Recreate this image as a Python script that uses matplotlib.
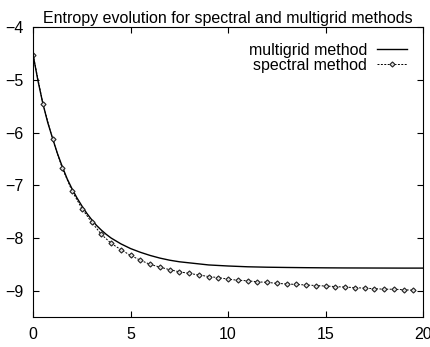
import numpy as np
import matplotlib
matplotlib.use("Agg")
import matplotlib.pyplot as plt

plt.rcParams['font.family'] = ['Liberation Sans', 'DejaVu Sans']

# Datos
t_spectral = [0, 0.5, 1, 1.5, 2, 2.5, 3, 3.5, 4, 4.5, 5, 5.5, 6, 6.5, 7, 7.5, 8, 8.5, 9, 9.5,
              10, 10.5, 11, 11.5, 12, 12.5, 13, 13.5, 14, 14.5, 15, 15.5, 16, 16.5, 17, 17.5,
              18, 18.5, 19, 19.5]
s_spectral = [-4.53, -5.45, -6.13, -6.68, -7.11, -7.44, -7.70, -7.93, -8.10, -8.22, -8.33,
              -8.42, -8.50, -8.55, -8.60, -8.64, -8.67, -8.70, -8.73, -8.75, -8.78, -8.80,
              -8.81, -8.83, -8.84, -8.86, -8.87, -8.88, -8.89, -8.90, -8.91, -8.92, -8.93,
              -8.94, -8.95, -8.96, -8.97, -8.97, -8.98, -8.99]

t_multigrid = [0, 0.25, 0.5, 0.75, 1, 1.25, 1.5, 1.75, 2, 2.25, 2.5, 2.75, 3, 3.25, 3.5,
               3.75, 4, 4.5, 5, 5.5, 6, 6.5, 7, 7.5, 8, 8.5, 9, 9.5, 10, 11, 12, 13, 14,
               15, 16, 17, 18, 19, 20]
s_multigrid = [-4.53, -5.02, -5.45, -5.81, -6.11, -6.40, -6.65, -6.88, -7.07, -7.24, -7.39,
               -7.53, -7.65, -7.76, -7.85, -7.93, -8.00, -8.11, -8.20, -8.27, -8.33, -8.38,
               -8.42, -8.45, -8.47, -8.49, -8.51, -8.52, -8.53, -8.545, -8.553, -8.558,
               -8.562, -8.565, -8.567, -8.568, -8.569, -8.57, -8.57]

x_ticks = [0, 5, 10, 15, 20]
y_ticks = [-4, -5, -6, -7, -8, -9]

fig = plt.figure(figsize=(4.30, 3.47), dpi=100)
ax = fig.add_axes([0.077, 0.086, 0.907, 0.836])

ax.plot(t_multigrid, s_multigrid, color='black', lw=1.0, label='multigrid method')
ax.plot(t_spectral, s_spectral, color='black', lw=0.7, ls=(0, (2, 1.5)),
        marker='D', markersize=2.6, markerfacecolor='#dddddd', markeredgecolor='#222222',
        markeredgewidth=0.8, label='spectral method')

ax.set_xlim(0, 20)
ax.set_ylim(-9.5, -4)
ax.set_xticks(x_ticks)
ax.set_yticks(y_ticks)
ax.tick_params(direction='in', top=True, right=True, labelsize=11.5, length=4, pad=7)
ax.set_title('Entropy evolution for spectral and multigrid methods', fontsize=11.5, pad=3)

leg = ax.legend(loc='upper right', frameon=False, markerfirst=False, fontsize=11.5,
                handlelength=1.9, labelspacing=0.0, borderaxespad=0.6, handletextpad=0.6)

fig.savefig('out.png', dpi=100)
